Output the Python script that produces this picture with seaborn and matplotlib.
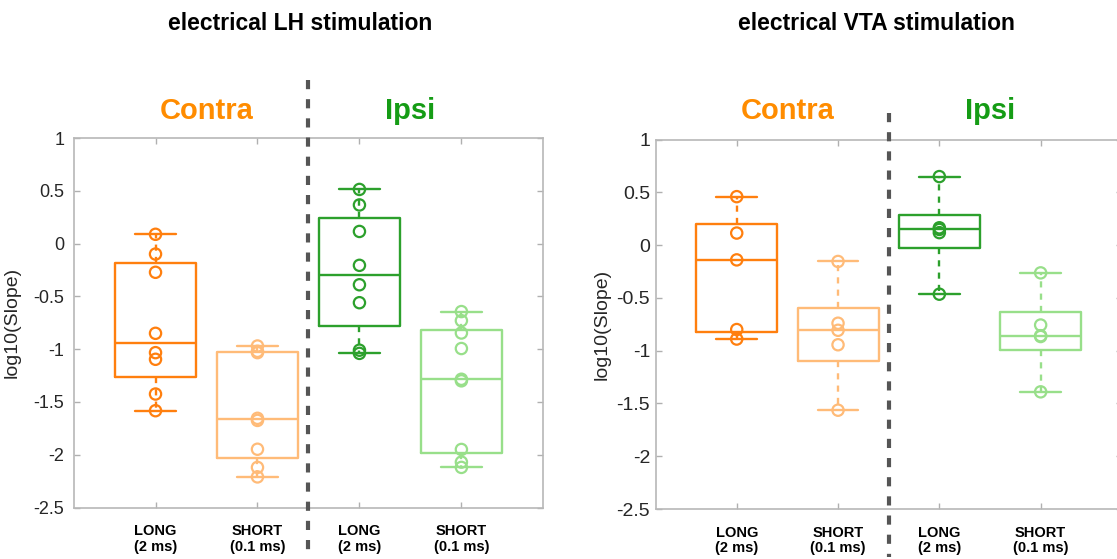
import numpy as np
import pandas as pd
import matplotlib
matplotlib.use("Agg")
import matplotlib.pyplot as plt
import seaborn as sns
from matplotlib.transforms import blended_transform_factory

sns.set_theme(style="white")
plt.rcParams["font.family"] = ["Liberation Sans", "DejaVu Sans"]

# ---------------- data ----------------
panel_titles = ["electrical LH stimulation", "electrical VTA stimulation"]
side_labels = ["Contra", "Ipsi"]
groups = ["Contra LONG", "Contra SHORT", "Ipsi LONG", "Ipsi SHORT"]
category_labels = ["LONG\n(2 ms)", "SHORT\n(0.1 ms)", "LONG\n(2 ms)", "SHORT\n(0.1 ms)"]
ytick_values = [1, 0.5, 0, -0.5, -1, -1.5, -2, -2.5]
ytick_labels = ["1", "0.5", "0", "-0.5", "-1", "-1.5", "-2", "-2.5"]

lh_contra_long = [0.088, -0.099, -0.272, -0.85, -1.033, -1.096, -1.425, -1.583]
lh_contra_short = [-0.97, -1.02, -1.033, -1.655, -1.675, -1.948, -2.12, -2.21]
lh_ipsi_long = [0.513, 0.366, 0.115, -0.206, -0.39, -0.56, -1.01, -1.04]
lh_ipsi_short = [-0.644, -0.73, -0.847, -0.994, -1.285, -1.30, -1.95, -2.07, -2.12]

vta_contra_long = [0.459, 0.114, -0.14, -0.80, -0.89]
vta_contra_short = [-0.155, -0.74, -0.807, -0.944, -1.564]
vta_ipsi_long = [0.649, 0.164, 0.148, 0.118, -0.465]
vta_ipsi_short = [-0.263, -0.757, -0.858, -0.866, -1.39]

group_colors = ["#ff7f0e", "#ffbb78", "#2ca02c", "#98df8a"]
side_colors = ["#ff8c00", "#159c15"]

panels = [
    [lh_contra_long, lh_contra_short, lh_ipsi_long, lh_ipsi_short],
    [vta_contra_long, vta_contra_short, vta_ipsi_long, vta_ipsi_short],
]


def box_stats(values):
    v = np.asarray(values, dtype=float)
    q1, med, q3 = np.percentile(v, [25, 50, 75], method="hazen")
    iqr = q3 - q1
    lo = v[v >= q1 - 1.5 * iqr].min()
    hi = v[v <= q3 + 1.5 * iqr].max()
    return dict(med=med, q1=q1, q3=q3, whislo=lo, whishi=hi, fliers=[])


fig = plt.figure(figsize=(11.17, 5.59), dpi=100)
ax_rects = [[0.0662, 0.0921, 0.4199, 0.661], [0.587, 0.0894, 0.4172, 0.661]]
title_x = [300 / 1117, 876 / 1117]
divider_span = [(1.157, -0.13), (1.072, -0.13)]
side_y = [1.073, 1.077]
ytick_size = [13, 14]
ytick_pad = [7, 4]
ylabel_x = [-0.113, -0.096]

for p, (rect, series) in enumerate(zip(ax_rects, panels)):
    ax = fig.add_axes(rect)
    positions = np.arange(1, len(groups) + 1)

    # boxes
    for pos, vals, col in zip(positions, series, group_colors):
        st = box_stats(vals)
        ax.bxp([st], positions=[pos], widths=0.8, showfliers=False,
               boxprops=dict(color=col, lw=1.7),
               medianprops=dict(color=col, lw=1.7),
               whiskerprops=dict(color=col, lw=1.7, linestyle=(0, (2.6, 2.6))),
               capprops=dict(color=col, lw=1.7),
               manage_ticks=False)

    # points
    df = pd.DataFrame({
        "pos": np.concatenate([[pos] * len(v) for pos, v in zip(positions, series)]),
        "value": np.concatenate(series),
        "group": np.concatenate([[g] * len(v) for g, v in zip(groups, series)]),
    })
    sns.scatterplot(data=df, x="pos", y="value", hue="group",
                    palette=dict(zip(groups, group_colors)), marker="o", s=66,
                    linewidth=1.6, legend=False, ax=ax, zorder=3)
    coll = ax.collections[-1]
    fc = coll.get_facecolors()
    coll.set_edgecolors(fc)
    coll.set_facecolors("none")

    ax.set_xlim(0.2, 4.8)
    ax.set_ylim(-2.5, 1)
    ax.set_xticks(positions)
    ax.set_xticklabels(category_labels, fontweight="bold", fontsize=10.5,
                       color="black", linespacing=1.15)
    ax.set_yticks(ytick_values)
    ax.set_yticklabels(ytick_labels, fontsize=ytick_size[p], color="#262626")
    ax.tick_params(axis="x", direction="in", length=4, width=1, color="#b0b0b0",
                   top=True, bottom=True, pad=12)
    ax.tick_params(axis="y", direction="in", length=4, width=1, color="#b0b0b0",
                   left=True, right=True, pad=ytick_pad[p])
    for s in ax.spines.values():
        s.set_color("#b8b8b8")
        s.set_linewidth(1.2)
        s.set_visible(True)
    ax.set_xlabel("")
    ax.set_ylabel("log10(Slope)", fontsize=14, color="#262626")
    ax.yaxis.set_label_coords(ylabel_x[p], 0.5)

    # divider
    tr = blended_transform_factory(ax.transData, ax.transAxes)
    ax.plot([2.5, 2.5], list(divider_span[p]), transform=tr, clip_on=False,
            color="#555555", lw=3.0, linestyle=(0, (2.2, 2.4)), zorder=5,
            solid_capstyle="butt", dash_capstyle="butt")

    # side labels
    for k, (lab, col) in enumerate(zip(side_labels, side_colors)):
        ax.text(positions[2 * k:2 * k + 2].mean(), side_y[p], lab, transform=tr,
                ha="center", va="center", fontsize=21, fontweight="bold", color=col)

    fig.text(title_x[p], 1 - 23 / 559, panel_titles[p], ha="center", va="center",
             fontsize=16.5, fontweight="bold", color="black")

fig.savefig("out.png", dpi=100)
